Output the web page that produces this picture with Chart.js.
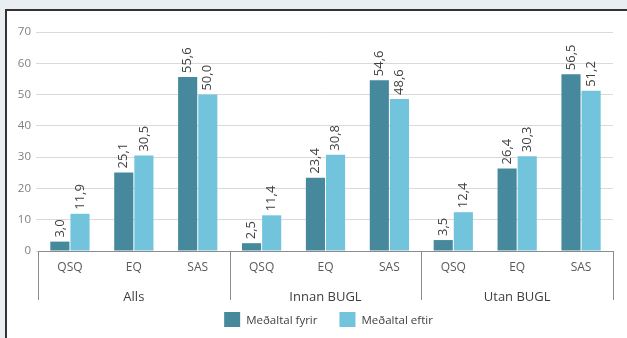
<!DOCTYPE html>
<html>
<head>
<meta charset="utf-8">
<script src="https://cdn.jsdelivr.net/npm/chart.js"></script>
<style>
  html, body { margin: 0; padding: 0; }
  body { width: 627px; height: 338px; background: #e9eef2; overflow: hidden; position: relative; }
  .panel { position: absolute; left: 5px; top: 9px; right: 0; bottom: 0; background: #fff;
           border-top: 2px solid #333; border-left: 2px solid #333; }
  .wrap { position: absolute; left: 0; top: 0; width: 620px; height: 327px; }
</style>
</head>
<body>
<div class="panel"><div class="wrap"><canvas id="chart"></canvas></div></div>
<script>
// Categories and groups
const measures = ['QSQ', 'EQ', 'SAS'];
const groups = ['Alls', 'Innan BUGL', 'Utan BUGL'];

// Series values (per group: QSQ, EQ, SAS)
const fyrir = [3.0, 25.1, 55.6, 2.5, 23.4, 54.6, 3.5, 26.4, 56.5];
const eftir = [11.9, 30.5, 50.0, 11.4, 30.8, 48.6, 12.4, 30.3, 51.2];

const yTicks = [0, 10, 20, 30, 40, 50, 60, 70];

const FONT = 'Open Sans';
const labels = groups.flatMap(() => measures);

// Rotated value labels above each bar
const valueLabels = {
  id: 'valueLabels',
  afterDatasetsDraw(chart) {
    const ctx = chart.ctx;
    ctx.save();
    ctx.font = '13px "' + FONT + '"';
    ctx.fillStyle = '#404040';
    ctx.textAlign = 'left';
    ctx.textBaseline = 'middle';
    chart.data.datasets.forEach((ds, i) => {
      chart.getDatasetMeta(i).data.forEach((bar, j) => {
        const txt = ds.data[j].toFixed(1).replace('.', ',');
        ctx.save();
        ctx.translate(bar.x, bar.y - 4);
        ctx.rotate(-Math.PI / 2);
        ctx.fillText(txt, 0, 0);
        ctx.restore();
      });
    });
    ctx.restore();
  }
};

// Group labels, divider lines and legend under the category axis
const groupAxis = {
  id: 'groupAxis',
  afterDraw(chart) {
    const x = chart.scales.x;
    const ctx = chart.ctx;
    const top = x.top;
    const n = measures.length;
    const edges = [x.left];
    for (let g = 1; g < groups.length; g++) {
      edges.push((x.getPixelForValue(g * n - 1) + x.getPixelForValue(g * n)) / 2);
    }
    edges.push(x.right);
    ctx.save();
    ctx.strokeStyle = '#8c8c8c';
    ctx.lineWidth = 1;
    edges.forEach(e => {
      const px = Math.round(e) + 0.5;
      ctx.beginPath();
      ctx.moveTo(px, top);
      ctx.lineTo(px, top + 49);
      ctx.stroke();
    });
    ctx.font = '13px "' + FONT + '"';
    ctx.fillStyle = '#404040';
    ctx.textAlign = 'center';
    ctx.textBaseline = 'middle';
    groups.forEach((g, i) => {
      ctx.fillText(g, (edges[i] + edges[i + 1]) / 2, top + 46);
    });

    // legend
    ctx.font = '11.5px "' + FONT + '"';
    ctx.textAlign = 'left';
    const items = chart.data.datasets.map(ds => ({ text: ds.label, color: ds.backgroundColor, w: ctx.measureText(ds.label).width }));
    const boxW = 16, boxH = 15, textGap = 22, itemGap = 22;
    const total = items.reduce((s, it) => s + textGap + it.w, 0) + itemGap * (items.length - 1);
    let lx = (x.left + x.right) / 2 + 3 - total / 2;
    const ly = top + 61;
    items.forEach(it => {
      ctx.fillStyle = it.color;
      ctx.fillRect(lx, ly, boxW, boxH);
      ctx.fillStyle = '#404040';
      ctx.fillText(it.text, lx + textGap, ly + boxH / 2 + 1);
      lx += textGap + it.w + itemGap;
    });
    ctx.restore();
  }
};

new Chart(document.getElementById('chart'), {
  type: 'bar',
  data: {
    labels: labels,
    datasets: [
      { label: 'Meðaltal fyrir', data: fyrir, backgroundColor: '#47899c' },
      { label: 'Meðaltal eftir', data: eftir, backgroundColor: '#71c4dc' }
    ]
  },
  options: {
    responsive: true,
    maintainAspectRatio: false,
    animation: false,
    datasets: { bar: { categoryPercentage: 0.63, barPercentage: 0.95 } },
    layout: { padding: { top: 21, right: 14, left: 0, bottom: 27 } },
    plugins: {
      legend: { display: false },
      tooltip: { enabled: false }
    },
    scales: {
      x: {
        grid: { display: false, drawTicks: false },
        border: { display: true, color: '#8c8c8c' },
        ticks: { color: '#595959', font: { family: FONT, size: 12 }, padding: 9, maxRotation: 0 },
        afterFit(axis) { axis.height = 60; }
      },
      y: {
        min: 0, max: 70,
        afterBuildTicks(axis) { axis.ticks = yTicks.map(v => ({ value: v })); },
        grid: { color: '#dadada', tickLength: 2 },
        border: { display: false },
        ticks: { color: '#7f7f7f', font: { family: FONT, size: 11.5 }, padding: 5 },
        afterFit(axis) { axis.width = 31; }
      }
    }
  },
  plugins: [valueLabels, groupAxis]
});
</script>
</body>
</html>
